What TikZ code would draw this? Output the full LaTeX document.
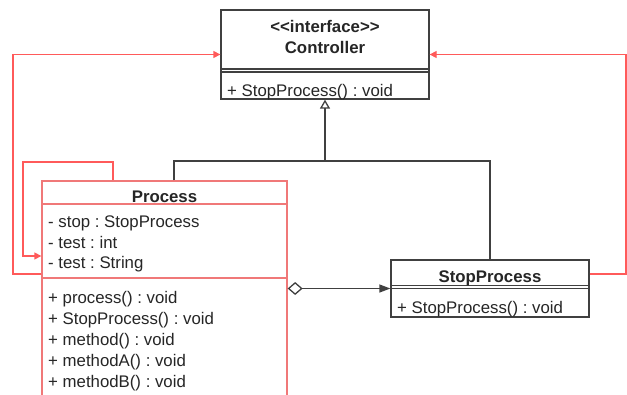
\documentclass[tikz,border=0pt]{standalone}
\usepackage{fontspec}
\setmainfont{Liberation Sans}
\usetikzlibrary{arrows.meta}
\definecolor{boxline}{HTML}{404040}
\definecolor{txt}{HTML}{262626}
\definecolor{linkred}{HTML}{FF5A5A}
\definecolor{procred}{HTML}{F07878}
\frenchspacing
\tikzset{
  umlbox/.style={draw=boxline, line width=1.3pt, inner sep=0pt, fill=white},
  procbox/.style={draw=procred, line width=1.3pt, inner sep=0pt, fill=white},
  sepline/.style={draw=boxline, line width=1.1pt},
  procsep/.style={draw=procred, line width=1.2pt},
  lbl/.style={font=\fontsize{16.8}{20}\selectfont, text=txt, inner sep=0pt},
  boldlbl/.style={lbl, font=\fontsize{16.8}{20}\selectfont\bfseries},
  plainline/.style={draw=boxline, line width=1.3pt},
  inherit/.style={plainline, -{Triangle[open, length=9pt, width=10pt]}},
  aggreg/.style={plainline, {Diamond[open, length=15pt, width=13pt]}-{Triangle[length=11pt, width=8pt]}},
  redlink/.style={draw=linkred, line width=1.3pt, -{Triangle[length=7pt, width=7pt]}},
}
\begin{document}
\begin{tikzpicture}[x=1pt, y=-1pt]
\clip (0,0) rectangle (627,394);
\fill[white] (0,0) rectangle (627,394);

% Controller interface
\node[umlbox, minimum width=208pt, minimum height=89pt] (ctrl) at (325,54.5) {};
\draw[sepline] (221,69) -- (429,69);
\draw[sepline] (221,72) -- (429,72);
\node[boldlbl, anchor=base] (ctrlst) at (325,32) {{<}{<}interface{>}{>}};
\node[boldlbl, anchor=base] (ctrlname) at (325,53) {Controller};
\node[lbl, anchor=base west] (ctrlm) at (227,96.5) {+ StopProcess() : void};

% Process class (runs past the lower edge)
\node[procbox, minimum width=245pt, minimum height=229pt] (proc) at (164.5,295.5) {};
\draw[procsep] (42,204) -- (287,204);
\draw[procsep] (42,278) -- (287,278);
\node[boldlbl, anchor=base] (procname) at (164.5,202) {Process};
\node[lbl, anchor=base west] (pa1) at (48,227) {- stop : StopProcess};
\node[lbl, anchor=base west] (pa2) at (48,248) {- test : int};
\node[lbl, anchor=base west] (pa3) at (48,268.5) {- test : String};
\node[lbl, anchor=base west] (pm1) at (48,303) {+ process() : void};
\node[lbl, anchor=base west] (pm2) at (48,324) {+ StopProcess() : void};
\node[lbl, anchor=base west] (pm3) at (48,345) {+ method() : void};
\node[lbl, anchor=base west] (pm4) at (48,366) {+ methodA() : void};
\node[lbl, anchor=base west] (pm5) at (48,387) {+ methodB() : void};

% StopProcess class
\node[umlbox, minimum width=198pt, minimum height=57pt] (sp) at (490,288.5) {};
\draw[sepline] (391,285.5) -- (589,285.5);
\draw[sepline] (391,288.5) -- (589,288.5);
\node[boldlbl, anchor=base] (spname) at (490,282) {StopProcess};
\node[lbl, anchor=base west] (spm) at (397,313.5) {+ StopProcess() : void};

% realization of the interface
\coordinate (hx) at (174,161);
\draw[plainline] (proc.north -| hx) -- (hx) -- (hx -| sp.north) -- (sp.north);
\draw[inherit] (hx -| ctrl.south) -- (ctrl.south);

% aggregation Process -> StopProcess
\draw[aggreg] (proc.east |- sp.west) -- (sp.west);

% call links
\coordinate (l1) at (13,274);
\draw[redlink] (l1 -| proc.west) -- (l1) |- (ctrl.west);
\coordinate (s0) at (113,162);
\coordinate (s1) at (23,162);
\coordinate (s2) at (23,256);
\draw[redlink] (s0 |- proc.north) -- (s0) -- (s1) -- (s2) -- (s2 -| proc.west);
\coordinate (r1) at (626,274);
\draw[redlink] (r1 -| sp.east) -- (r1) |- (ctrl.east);
\end{tikzpicture}
\end{document}
